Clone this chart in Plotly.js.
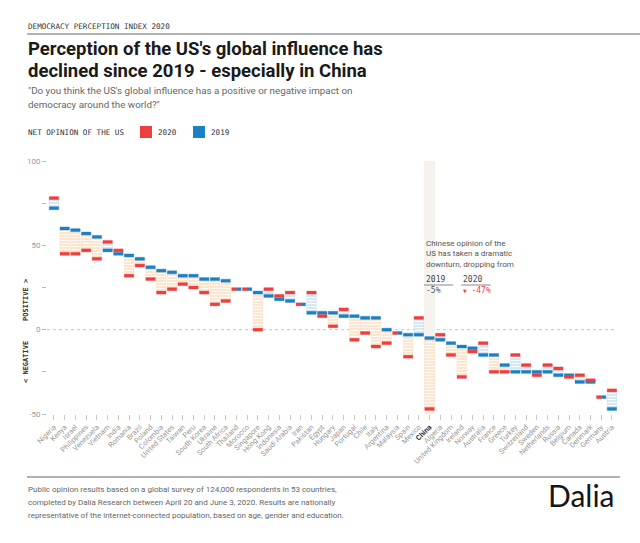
<!DOCTYPE html>
<html>
<head>
<meta charset="utf-8">
<script src="https://cdn.plot.ly/plotly-3.0.1.min.js"></script>
<style>html,body{margin:0;padding:0;background:#fff;}#chart{width:640px;height:543px;}</style>
</head>
<body>
<div id="chart"></div>
<script>
// ---- data ----
const countries = ["Nigeria","Kenya","Israel","Philippines","Venezuela","Vietnam","India","Romania","Brazil","Poland","Colombia","United States","Taiwan","Peru","South Korea","Ukraine","South Africa","Thailand","Morocco","Singapore","Hong Kong","Indonesia","Saudi Arabia","Iran","Pakistan","Egypt","Hungary","Japan","Portugal","Chile","Italy","Argentina","Malaysia","Spain","Mexico","China","Algeria","United Kingdom","Ireland","Norway","Australia","France","Greece","Turkey","Switzerland","Sweden","Netherlands","Russia","Belgium","Canada","Denmark","Germany","Austria"];
const net2020 = [78,45,45,47,42,52,47,32,38,30,22,24,27,25,22,15,17,24,24,0,24,20,22,15,22,8,2,12,-6,-2,-10,-8,-2,-16,7,-47,-3,-15,-28,-13,-8,-25,-25,-15,-21,-27,-21,-23,-28,-27,-30,-40,-36];
const net2019 = [72,60,59,57,55,47,45,44,42,37,35,34,32,32,30,30,29,24,24,22,20,18,17,15,10,10,10,8,8,7,7,0,-2,-3,-3,-5,-6,-8,-10,-11,-15,-15,-21,-25,-25,-25,-25,-27,-27,-31,-31,-40,-47];
const yTickVals = [-50,-25,0,25,50,75,100];
const yTickText = ["-50","","0","","50","","100"];
const highlight = "China";
const china2019Label = "-5%";
const china2020Label = "-47%";

// ---- geometry ----
const W = 640, H = 543, ML = 47, MR = 23, MT = 161, MB = 129;
const PW = W - ML - MR, PH = H - MT - MB;
const px = x => (x - ML) / PW;
const py = y => (H - MB - y) / PH;

const RED = "#ee3e3e", BLUE = "#1c80c4";
const BW = 0.88, CAP = 1.8;

const declineBase = [], declineLen = [], riseBase = [], riseLen = [];
countries.forEach((c, i) => {
  const a = net2020[i], b = net2019[i];
  const lo = Math.min(a, b), hi = Math.max(a, b);
  if (a < b) { declineBase.push(lo); declineLen.push(hi - lo); riseBase.push(null); riseLen.push(null); }
  else if (a > b) { riseBase.push(lo); riseLen.push(hi - lo); declineBase.push(null); declineLen.push(null); }
  else { declineBase.push(null); declineLen.push(null); riseBase.push(null); riseLen.push(null); }
});
const tie = countries.map((c, i) => net2020[i] === net2019[i]);
const redW = tie.map(t => t ? BW / 2 : BW);
const redOff = tie.map(t => -BW / 2);
const blueW = tie.map(t => t ? BW / 2 : BW);
const blueOff = tie.map(t => t ? 0 : -BW / 2);

const traces = [
  {type: "bar", x: countries, y: declineLen, base: declineBase, width: BW,
   marker: {color: "#fde6cf", line: {color: "#fbd9b8", width: 0.5},
            pattern: {shape: "-", size: 3, solidity: 0.3, fgcolor: "#ffffff", bgcolor: "#fde6cf", fgopacity: 1}},
   hoverinfo: "skip"},
  {type: "bar", x: countries, y: riseLen, base: riseBase, width: BW,
   marker: {color: "#d5e9f5", line: {color: "#b9daee", width: 0.5},
            pattern: {shape: "-", size: 3, solidity: 0.3, fgcolor: "#ffffff", bgcolor: "#d5e9f5", fgopacity: 1}},
   hoverinfo: "skip"},
  {type: "bar", x: countries, y: countries.map(() => CAP), base: net2019.map(v => v - CAP / 2),
   width: blueW, offset: blueOff, marker: {color: BLUE, line: {color: "rgba(28,128,196,0.35)", width: 1}}},
  {type: "bar", x: countries, y: countries.map(() => CAP), base: net2020.map(v => v - CAP / 2),
   width: redW, offset: redOff, marker: {color: RED, line: {color: "rgba(238,62,62,0.35)", width: 1}}}
];

const ci = countries.indexOf(highlight);
const tickText = countries.map(c => c === highlight ? '<b><span style="color:#333">' + c + '</span></b>' : c);

const mono = "DejaVu Sans Mono";
const sans = "Roboto";
const ann = (x, y, text, size, color, family, extra) => Object.assign({
  xref: "paper", yref: "paper", x: px(x), y: py(y), text: text, showarrow: false,
  xanchor: "left", yanchor: "middle", font: {size: size, color: color, family: family}, borderpad: 0
}, extra || {});

const annotations = [
  ann(27, 26, "DEMOCRACY PERCEPTION INDEX 2020", 7.6, "#333", mono),
  ann(27, 49, "<b>Perception of the US's global influence has</b>", 18.5, "#1a1a1a", sans),
  ann(27, 71, "<b>declined since 2019 - especially in China</b>", 18.5, "#1a1a1a", sans),
  ann(27, 90, "\"Do you think the US's global influence has a positive or negative impact on", 9.8, "#666", sans),
  ann(27, 104, "democracy around the world?\"", 9.8, "#666", sans),
  ann(27, 132, "NET OPINION OF THE US", 7.6, "#333", mono),
  ann(157, 132, "2020", 7.6, "#333", mono),
  ann(210, 132, "2019", 7.6, "#333", mono),
  ann(26, 300, "<b>POSITIVE ></b>", 7, "#333", mono, {xanchor: "center", textangle: -90}),
  ann(26, 362, "<b>< NEGATIVE</b>", 7, "#333", mono, {xanchor: "center", textangle: -90}),
  // China note
  {xref: "x", yref: "paper", x: ci - 0.52, y: py(243), text: "Chinese opinion of the", showarrow: false, xanchor: "left", yanchor: "middle", font: {size: 8, color: "#555", family: sans}},
  {xref: "x", yref: "paper", x: ci - 0.52, y: py(253.5), text: "US has taken a dramatic", showarrow: false, xanchor: "left", yanchor: "middle", font: {size: 8, color: "#555", family: sans}},
  {xref: "x", yref: "paper", x: ci - 0.52, y: py(264), text: "downturn, dropping from", showarrow: false, xanchor: "left", yanchor: "middle", font: {size: 8, color: "#555", family: sans}},
  {xref: "x", yref: "paper", x: ci - 0.52, y: py(279), text: "2019", showarrow: false, xanchor: "left", yanchor: "middle", font: {size: 8, color: "#444", family: mono}},
  {xref: "x", yref: "paper", x: ci + 2.95, y: py(279), text: "2020", showarrow: false, xanchor: "left", yanchor: "middle", font: {size: 8, color: "#444", family: mono}},
  {xref: "x", yref: "paper", x: ci - 0.52, y: py(290), text: china2019Label, showarrow: false, xanchor: "left", yanchor: "middle", font: {size: 8, color: "#555", family: mono}},
  {xref: "x", yref: "paper", x: ci + 2.95, y: py(290), text: '<span style="font-size:6px">▼</span> ' + china2020Label, showarrow: false, xanchor: "left", yanchor: "middle", font: {size: 8, color: RED, family: mono}},
  // footer
  ann(27, 489, "Public opinion results based on a global survey of 124,000 respondents in 53 countries,", 8.0, "#666", sans),
  ann(27, 502, "completed by Dalia Research between April 20 and June 3, 2020. Results are nationally", 8.0, "#666", sans),
  ann(27, 515, "representative of the internet-connected population, based on age, gender and education.", 8.0, "#666", sans),
  ann(547, 495, "Dalia", 30, "#151515", "Lato")
];

const shapes = [
  {type: "rect", xref: "x", yref: "y", x0: ci - 0.53, x1: ci + 0.53, y0: -50, y1: 100, fillcolor: "#f6f3ee", line: {width: 0}, layer: "below"},
  {type: "line", xref: "paper", yref: "y", x0: 0, x1: 1, y0: 0, y1: 0, line: {color: "#c8c8c8", width: 1, dash: "dot"}, layer: "below"},
  {type: "line", xref: "paper", yref: "paper", x0: px(27), x1: px(640), y0: py(34), y1: py(34), line: {color: "#999", width: 1.5}},
  {type: "line", xref: "paper", yref: "paper", x0: px(27), x1: px(620), y0: py(477), y1: py(477), line: {color: "#999", width: 1.5}},
  {type: "rect", xref: "paper", yref: "paper", x0: px(140), x1: px(152), y0: py(138), y1: py(126), fillcolor: RED, line: {width: 0}},
  {type: "rect", xref: "paper", yref: "paper", x0: px(193), x1: px(205), y0: py(138), y1: py(126), fillcolor: BLUE, line: {width: 0}},
  {type: "line", xref: "x", yref: "paper", x0: ci - 0.52, x1: ci + 2.2, y0: py(285), y1: py(285), line: {color: "#888", width: 1}},
  {type: "line", xref: "x", yref: "paper", x0: ci + 2.95, x1: ci + 5.7, y0: py(285), y1: py(285), line: {color: "#888", width: 1}}
];

const layout = {
  width: W, height: H,
  margin: {l: ML, r: MR, t: MT, b: MB, pad: 0},
  paper_bgcolor: "#fff", plot_bgcolor: "rgba(0,0,0,0)",
  barmode: "overlay", showlegend: false,
  font: {family: sans, color: "#999"},
  xaxis: {type: "category", range: [-0.65, 52.47], tickmode: "array", tickvals: countries, ticktext: tickText,
          tickangle: -45, ticks: "outside", ticklen: 5, tickcolor: "#c8c8c8", tickwidth: 1,
          tickfont: {size: 7.3, color: "#999", family: sans}, showgrid: false, zeroline: false, showline: false, fixedrange: true},
  yaxis: {range: [-50, 100], tickmode: "array", tickvals: yTickVals, ticktext: yTickText,
          ticks: "outside", ticklen: 4, tickcolor: "#bbb", tickwidth: 1,
          tickfont: {size: 8, color: "#999", family: sans}, showgrid: false, zeroline: false, showline: false, fixedrange: true},
  annotations: annotations, shapes: shapes
};

Plotly.newPlot("chart", traces, layout, {displayModeBar: false, staticPlot: true});
</script>
</body>
</html>
